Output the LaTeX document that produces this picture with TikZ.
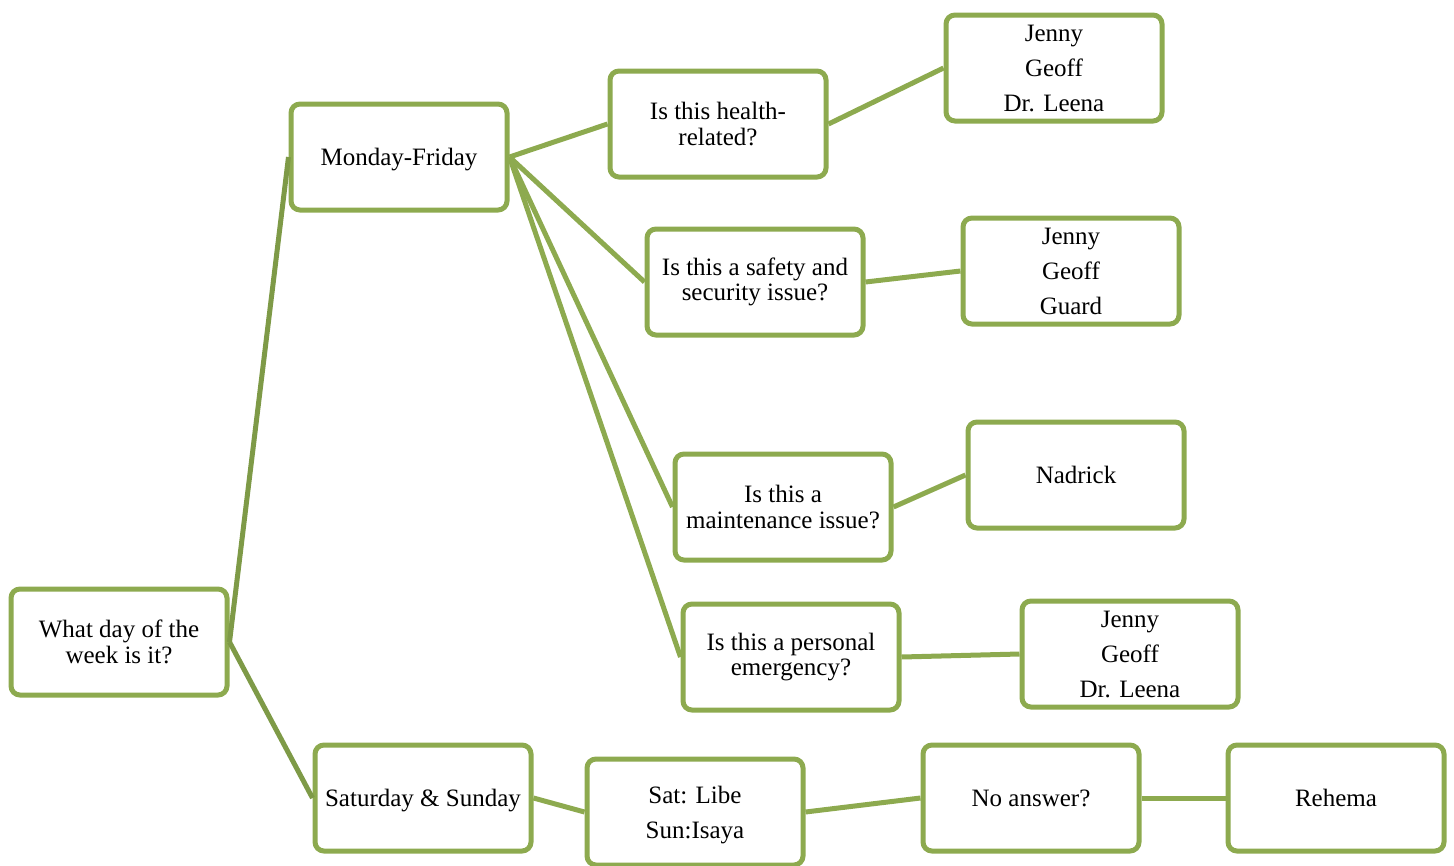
\documentclass[tikz,border=0pt]{standalone}
\usepackage{fontspec}
\setmainfont{Liberation Serif}
\definecolor{boxgreen}{RGB}{141,170,79}
\definecolor{linkdark}{RGB}{126,154,71}
\newcommand{\dn}[1]{\raisebox{-3pt}[\height][\depth]{#1}}
\begin{document}
\begin{tikzpicture}[x=1pt,y=-1pt,
  box/.style={draw=boxgreen, line width=5pt, rounded corners=9pt, fill=white,
    minimum width=216pt, minimum height=106pt, inner sep=0pt, align=center,
    font=\fontsize{25}{25.5}\selectfont},
  tall/.style={font=\fontsize{25}{35}\selectfont},
  link/.style={draw=boxgreen, line width=5pt},
  rootlink/.style={draw=linkdark, line width=5pt}]
\useasboundingbox (0,0) rectangle (1454,865);
\node[box] (root) at (119,642) {What day of the\\week is it?};
\node[box] (mf) at (399,157) {\dn{Monday-Friday}};
\node[box] (ss) at (423,798) {\dn{Saturday \& Sunday}};
\node[box] (q1) at (718,124) {Is this health-\\related?};
\node[box] (q2) at (755,282) {Is this a safety and\\security issue?};
\node[box] (q3) at (783,507) {Is this a\\maintenance issue?};
\node[box] (q4) at (791,657) {Is this a personal\\emergency?};
\node[box,tall] (a1) at (1054,68) {Jenny\\Geoff\\Dr. Leena};
\node[box,tall] (a2) at (1071,271) {Jenny\\Geoff\\Guard};
\node[box] (a3) at (1076,475) {Nadrick};
\node[box,tall] (a4) at (1130,654) {Jenny\\Geoff\\Dr. Leena};
\node[box,tall] (sat) at (695,812) {\dn{Sat: Libe}\\\dn{Sun:Isaya}};
\node[box] (na) at (1031,798) {No answer?};
\node[box] (reh) at (1336,798) {Rehema};
\draw[rootlink] (root.east) -- (mf.west);
\draw[rootlink] (root.east) -- (ss.west);
\draw[link] (mf.east) -- (q1.west);
\draw[link] (mf.east) -- (q2.west);
\draw[link] (mf.east) -- (q3.west);
\draw[link] (mf.east) -- (q4.west);
\draw[link] (q1.east) -- (a1.west);
\draw[link] (q2.east) -- (a2.west);
\draw[link] (q3.east) -- (a3.west);
\draw[link] (q4.east) -- (a4.west);
\draw[link] (ss.east) -- (sat.west);
\draw[link] (sat.east) -- (na.west);
\draw[link] (na.east) -- (reh.west);
\end{tikzpicture}
\end{document}
